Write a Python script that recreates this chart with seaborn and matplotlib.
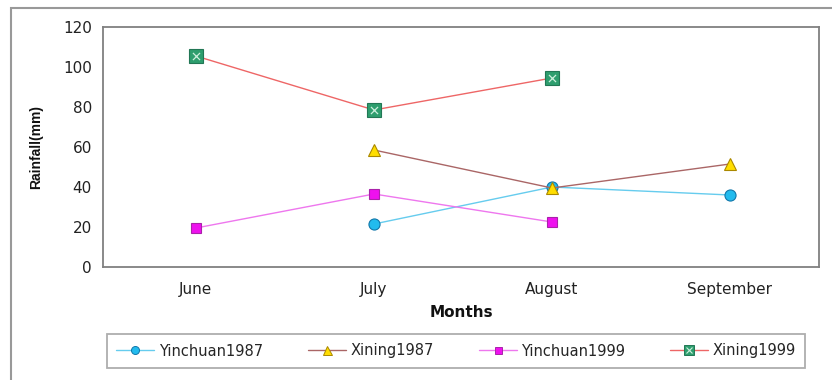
import matplotlib
matplotlib.use("Agg")
import matplotlib.pyplot as plt
from matplotlib.lines import Line2D
from matplotlib.patches import Rectangle
from matplotlib.legend_handler import HandlerTuple
import numpy as np
import pandas as pd
import seaborn as sns

sns.set_style("white")
plt.rcParams["font.family"] = ["DejaVu Sans"]

months = ["June", "July", "August", "September"]
series_names = ["Yinchuan1987", "Xining1987", "Yinchuan1999", "Xining1999"]
yinchuan1987 = [np.nan, 21.5, 40, 36]
xining1987 = [np.nan, 58.5, 39.5, 51.5]
yinchuan1999 = [19.5, 36.5, 22.5, np.nan]
xining1999 = [105.5, 78.5, 94.5, np.nan]
values = [yinchuan1987, xining1987, yinchuan1999, xining1999]

styles = {
    "Yinchuan1987": dict(color="#66CCEE", marker="o", mfc="#22BBEE", mec="#1177AA", ms=8),
    "Xining1987": dict(color="#AA6666", marker="^", mfc="#FFDD00", mec="#AA8800", ms=9),
    "Yinchuan1999": dict(color="#EE77EE", marker="s", mfc="#EE11EE", mec="#AA22AA", ms=7),
    "Xining1999": dict(color="#EE6666", marker="s", mfc="#2E9E6E", mec="#227755", ms=9.5),
}

fig = plt.figure(figsize=(8.32, 3.80), dpi=100)
fig.patch.set_facecolor("white")
ax = fig.add_axes([103 / 832, 1 - 267 / 380, 716 / 832, 240 / 380])

for name, vals in zip(series_names, values):
    st = styles[name]
    df = pd.DataFrame({
        "Month": pd.Categorical(months, categories=months, ordered=True),
        "Rainfall": vals,
    }).dropna()
    sns.lineplot(data=df, x="Month", y="Rainfall", ax=ax, color=st["color"],
                 linewidth=1.0, marker=st["marker"], markersize=st["ms"],
                 markerfacecolor=st["mfc"], markeredgecolor=st["mec"],
                 markeredgewidth=0.8, sort=False, legend=False, zorder=3)
    if name == "Xining1999":
        sns.scatterplot(data=df, x="Month", y="Rainfall", ax=ax, marker="x",
                        s=26, color="#CCEEDD", linewidth=0.9, legend=False, zorder=4)

ax.set_xlim(-0.522, 3.5)
ax.set_ylim(0, 120)
ax.set_yticks(np.arange(0, 121, 20))
ax.set_xticks(range(4))
ax.set_xticklabels(months)
ax.set_xticks(np.arange(0.5, 3.6, 1.0), minor=True)
ax.tick_params(axis="x", which="major", length=0, pad=11, labelsize=11, colors="#222222")
ax.tick_params(axis="x", which="minor", length=4, width=1, color="#808080", direction="out")
ax.tick_params(axis="y", length=5, width=1, color="#808080", direction="out",
               pad=3, labelsize=11, labelcolor="#222222")
for sp in ax.spines.values():
    sp.set_color("#808080")
    sp.set_linewidth(1.3)
    sp.set_visible(True)

ax.set_xlabel("Months", fontsize=11, fontweight="bold", labelpad=5.5, color="#111111")
ax.set_ylabel("Rainfall(mm)", fontsize=10, fontweight="bold", labelpad=14,
              color="#111111", family=["Liberation Sans", "DejaVu Sans"])

# outer chart frame (top and left edges visible)
fig.add_artist(Rectangle((11 / 832, -0.2), 1.2, 1 - 8 / 380 + 0.2,
                         transform=fig.transFigure, fill=False,
                         edgecolor="#999999", linewidth=1.5))

handles = []
for name in series_names:
    st = styles[name]
    ln = Line2D([], [], color=st["color"], linewidth=1.0, marker=st["marker"],
                markersize=st["ms"] * 0.72, markerfacecolor=st["mfc"],
                markeredgecolor=st["mec"], markeredgewidth=0.7)
    if name == "Xining1999":
        xm = Line2D([], [], linestyle="none", marker="x", markersize=5,
                    color="#CCEEDD", markeredgewidth=0.8)
        handles.append((ln, xm))
    else:
        handles.append(ln)

leg = fig.legend(handles, series_names, loc="center",
                 bbox_to_anchor=(456 / 832, 1 - 351 / 380), ncol=4,
                 frameon=True, fancybox=False, fontsize=10.5, handlelength=2.6,
                 columnspacing=3.1, handletextpad=0.3, borderpad=0.65,
                 handler_map={tuple: HandlerTuple(ndivide=1)})
leg.get_frame().set_edgecolor("#999999")
leg.get_frame().set_linewidth(1.3)

fig.savefig("out.png", dpi=100, facecolor="white")
